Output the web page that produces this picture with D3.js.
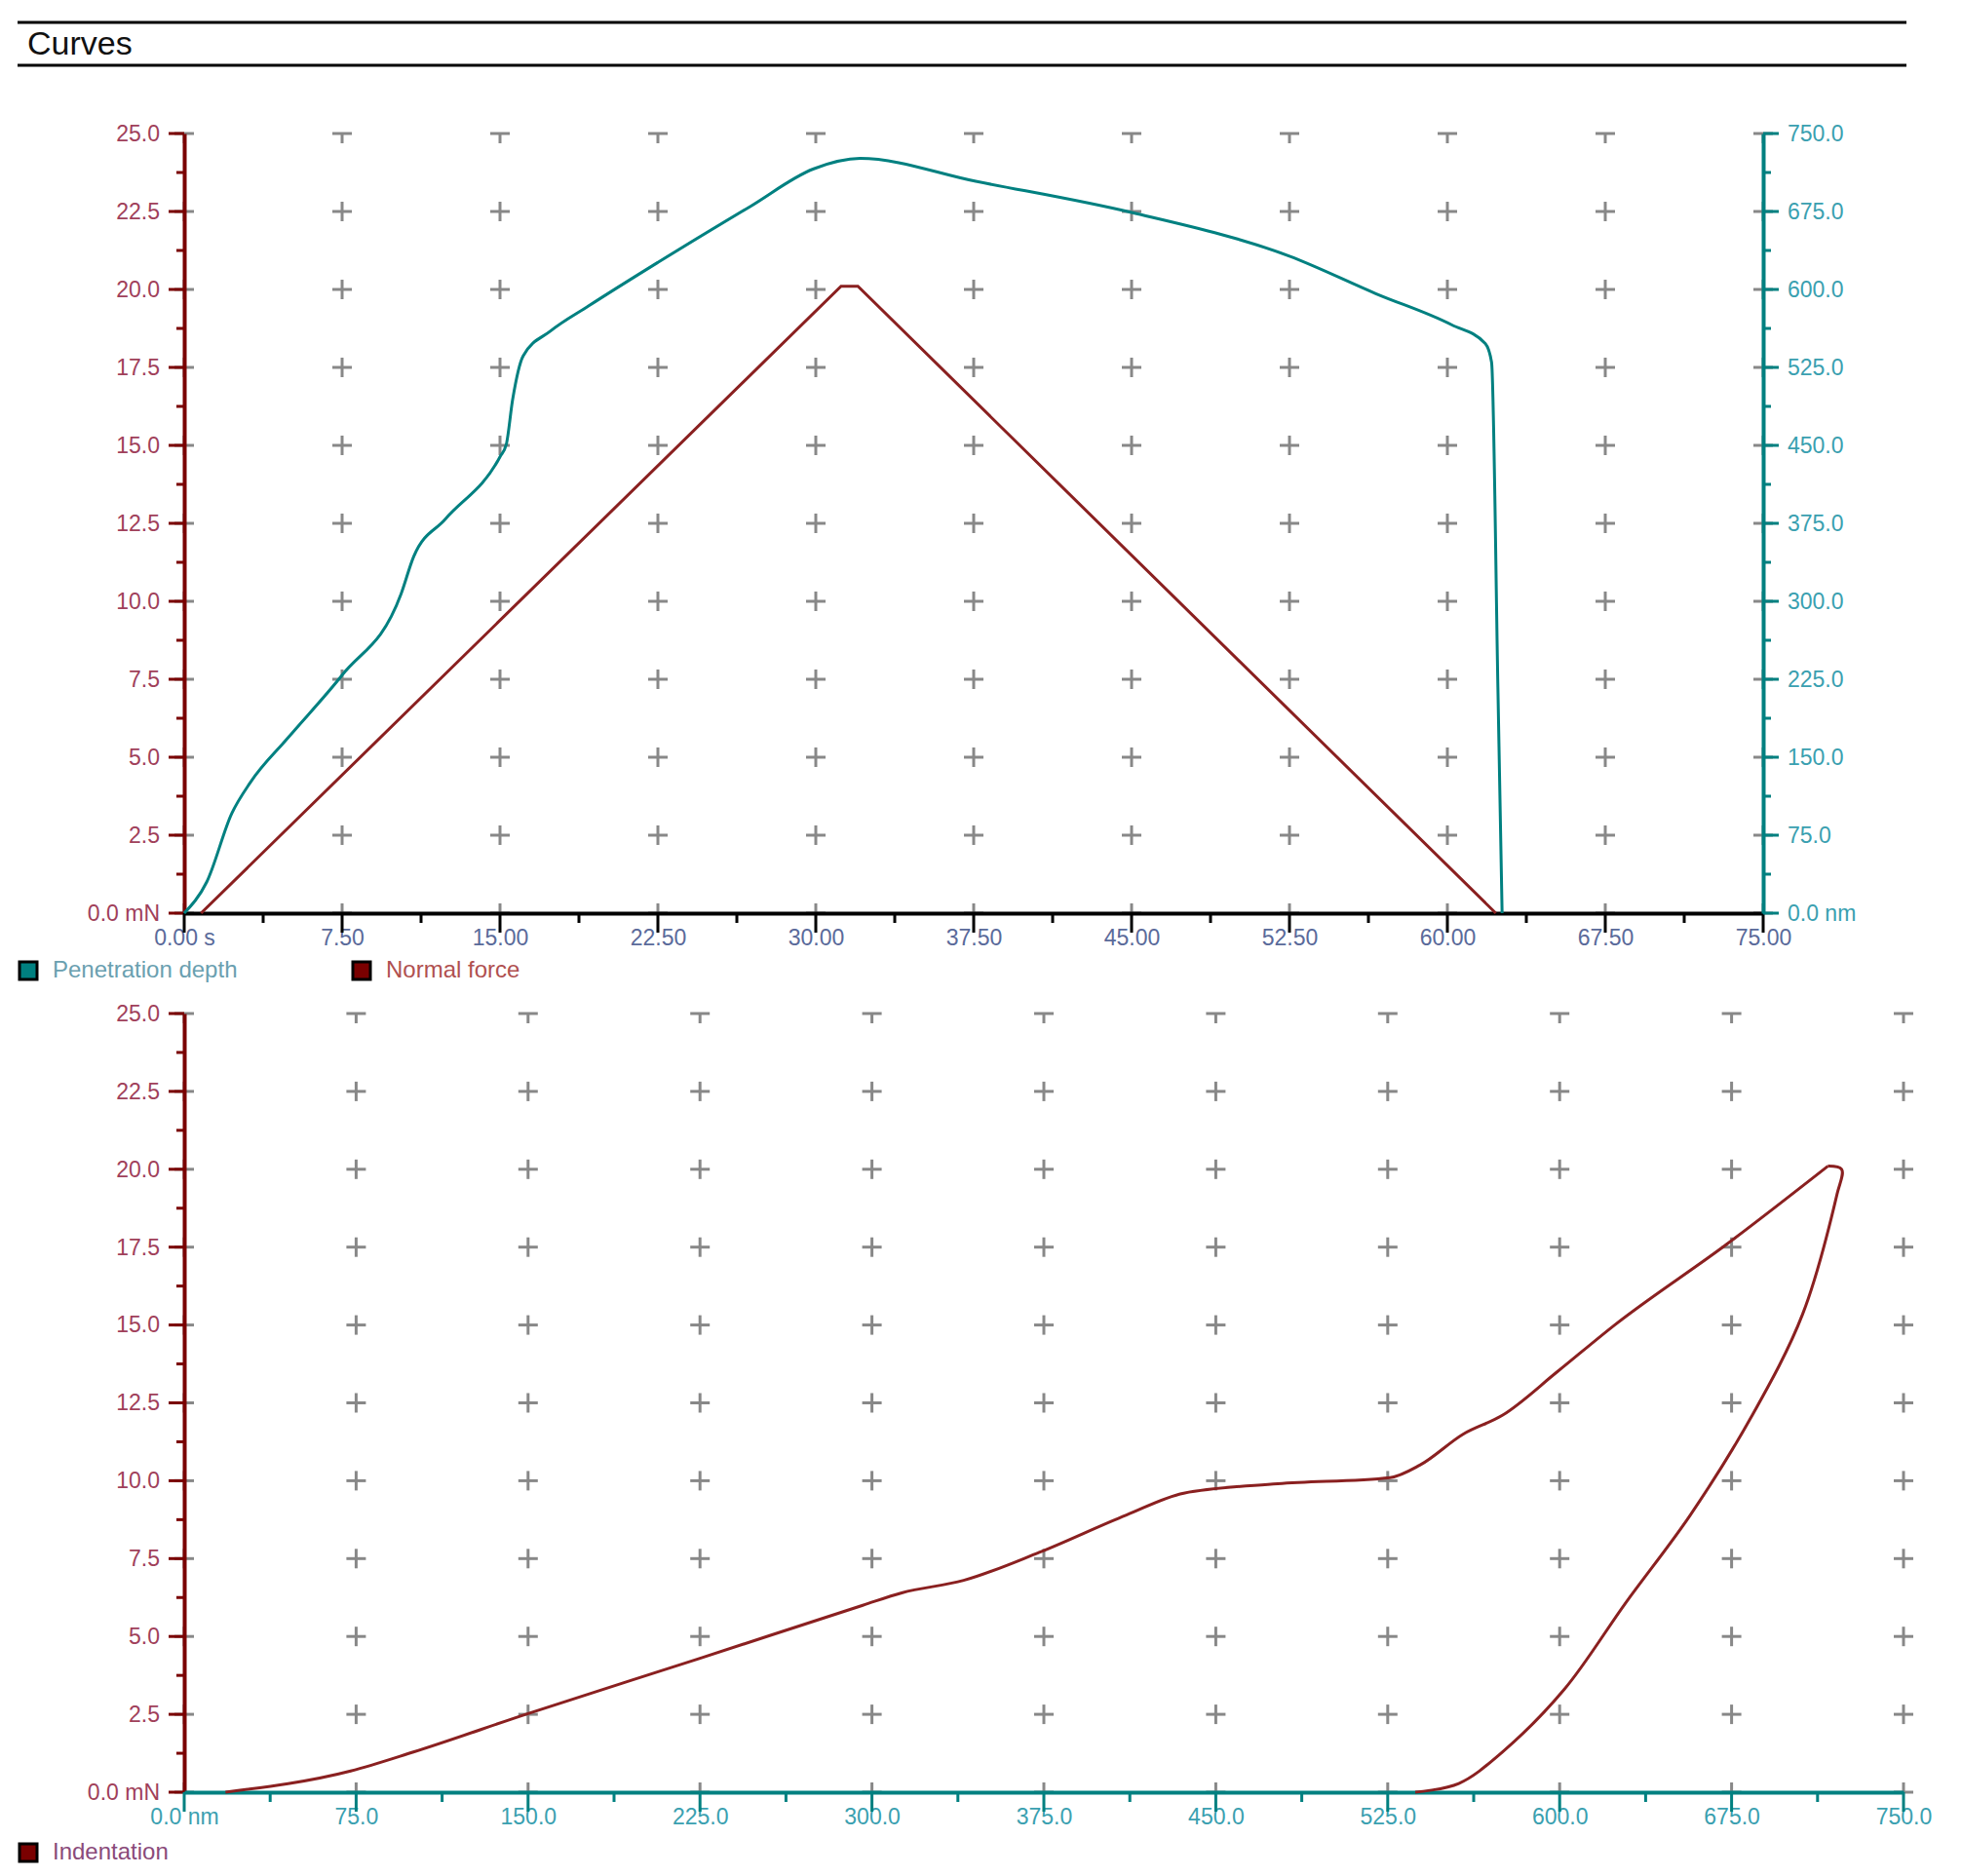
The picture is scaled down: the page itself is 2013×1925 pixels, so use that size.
<!DOCTYPE html>
<html><head><meta charset="utf-8"><script src="https://cdn.jsdelivr.net/npm/d3@7"></script>
<style>body{margin:0;background:#fff}</style></head><body>
<svg id="c" width="2013" height="1925"></svg>
<script>
const timeTicks=[0,7.5,15,22.5,30,37.5,45,52.5,60,67.5,75];
const forceTicks=[0,2.5,5,7.5,10,12.5,15,17.5,20,22.5,25];
const depthTicksR=[0,75,150,225,300,375,450,525,600,675,750];
const depthT=[0,1.07,2.26,3.15,4.9,7.5,10.3,10.9,12.4,15,15.3,15.6,16.1,17.4,19.2,22.5,26.9,29.9,32.1,37.6,45,52.5,56.6,60.2,61.8,62.1,62.4,62.6];
const depthV=[0,30,96,126,168,229,307,343,379,439,451,494,536,560,584,626,680,716,726,704,674,632,596,566,548,530,217,0];
const forceT=[0.8,31.2,32.0,62.3];
const forceV=[0,20.1,20.1,0];
const indD=[18,72.6,100,149,225,296,313,340,373,411,436,477,526,539,558,575,599,624,673,717,723,721,706,684,657,629,602,575,556,537];
const indF=[0,0.68,1.29,2.5,4.3,6.0,6.4,6.8,7.7,8.9,9.6,9.9,10.1,10.5,11.5,12.1,13.5,15.0,17.6,20.1,20.0,19.2,15.35,12.1,8.9,6.1,3.3,1.29,0.28,0];
const RED="#7a0000",TEAL="#008080",LRED="#a0405a",LTEAL="#3aa0b0",GREY="#888";
const svg=d3.select("#c");
const F="Liberation Sans, Arial, sans-serif";
svg.append("line").attr("x1",18).attr("x2",1956).attr("y1",23).attr("y2",23).attr("stroke","#000").attr("stroke-width",3);
svg.append("line").attr("x1",18).attr("x2",1956).attr("y1",67).attr("y2",67).attr("stroke","#000").attr("stroke-width",3);
svg.append("text").attr("x",28).attr("y",56).text("Curves").attr("font-family",F).attr("font-size",34).attr("fill","#111");
function fmt(v,d){return v.toFixed(d);}
function panel(o){
 const x=d3.scaleLinear().domain(o.xd).range([o.l,o.r]);
 const y=d3.scaleLinear().domain([0,25]).range([o.b,o.t]);
 const g=svg.append("g");
 o.xt.forEach(xv=>o.yt.forEach(yv=>{
  const px=x(xv),py=y(yv);
  g.append("line").attr("x1",px-10).attr("x2",px+10).attr("y1",py).attr("y2",py).attr("stroke",GREY).attr("stroke-width",3);
  g.append("line").attr("x1",px).attr("x2",px).attr("y1",yv==25?py:py-10).attr("y2",yv==0?py:py+10).attr("stroke",GREY).attr("stroke-width",3);
 }));
 const ax=d3.axisLeft(y).tickValues(forceTicks).tickSize(0).tickFormat(d=>d==0?"0.0 mN":fmt(d,1));
 const ga=g.append("g").attr("transform",`translate(${o.l},0)`).call(ax);
 ga.select(".domain").attr("stroke",RED).attr("stroke-width",4);
 ga.selectAll("text").attr("fill",LRED).attr("font-size",23).attr("font-family",F).attr("dx",-22);
 const mins=d3.range(0,25.01,1.25);
 g.selectAll(null).data(mins).join("line").attr("x1",d=>o.l-(d%2.5==0?16:8)).attr("x2",o.l).attr("y1",d=>y(d)).attr("y2",d=>y(d)).attr("stroke",RED).attr("stroke-width",3);
 const bx=d3.axisBottom(x).tickValues(o.xt).tickSize(0).tickFormat(o.xf);
 const gb=g.append("g").attr("transform",`translate(0,${o.b})`).call(bx);
 gb.select(".domain").attr("stroke",o.xc).attr("stroke-width",4);
 gb.selectAll("text").attr("fill",o.xlc).attr("font-size",23).attr("font-family",F).attr("dy",30);
 const step=(o.xt[1]-o.xt[0])/2;
 const xm=d3.range(o.xd[0],o.xd[1]+0.001,step);
 g.selectAll(null).data(xm).join("line").attr("x1",d=>x(d)).attr("x2",d=>x(d)).attr("y1",o.b).attr("y2",(d,i)=>o.b+(i%2==0?20:10)).attr("stroke",o.xc).attr("stroke-width",3);
 return {x,y,g};
}
const p1=panel({l:189,r:1809,t:137,b:937,xd:[0,75],xt:timeTicks,yt:forceTicks,xf:d=>d==0?"0.00 s":fmt(d,2),xc:"#000",xlc:"#5a6a9a"});
const yr=d3.scaleLinear().domain([0,750]).range([937,137]);
const gr=p1.g.append("g").attr("transform","translate(1809,0)").call(d3.axisRight(yr).tickValues(depthTicksR).tickSize(0).tickFormat(d=>d==0?"0.0 nm":fmt(d,1)));
gr.select(".domain").attr("stroke",TEAL).attr("stroke-width",4);
gr.selectAll("text").attr("fill",LTEAL).attr("font-size",23).attr("font-family",F).attr("dx",22);
p1.g.selectAll(null).data(d3.range(0,750.1,37.5)).join("line").attr("x1",1809).attr("x2",(d,i)=>1809+(i%2==0?16:8)).attr("y1",d=>yr(d)).attr("y2",d=>yr(d)).attr("stroke",TEAL).attr("stroke-width",3);
p1.g.append("path").attr("d",d3.line().curve(d3.curveMonotoneX)(depthT.map((t,i)=>[p1.x(t),yr(depthV[i])]))).attr("fill","none").attr("stroke",TEAL).attr("stroke-width",3);
p1.g.append("path").attr("d",d3.line()(forceT.map((t,i)=>[p1.x(t),p1.y(forceV[i])]))).attr("fill","none").attr("stroke","#8a2020").attr("stroke-width",3);
function legend(x,y,c,t,tc){
 svg.append("rect").attr("x",x).attr("y",y-16).attr("width",18).attr("height",18).attr("fill",c).attr("stroke","#000").attr("stroke-width",3);
 svg.append("text").attr("x",x+34).attr("y",y).text(t).attr("fill",tc).attr("font-size",24).attr("font-family",F);
}
legend(20,1003,TEAL,"Penetration depth","#6aa0b0");
legend(362,1003,RED,"Normal force","#b05050");
const p2=panel({l:189,r:1953,t:1040,b:1839,xd:[0,750],xt:depthTicksR,yt:forceTicks,xf:d=>d==0?"0.0 nm":fmt(d,1),xc:TEAL,xlc:LTEAL});
p2.g.append("path").attr("d",d3.line().curve(d3.curveMonotoneX)(indD.slice(0,20).map((d,i)=>[p2.x(d),p2.y(indF[i])]))).attr("fill","none").attr("stroke","#8a2020").attr("stroke-width",3);
p2.g.append("path").attr("d",d3.line().curve(d3.curveCatmullRom)(indD.slice(19).map((d,i)=>[p2.x(d),p2.y(indF[i+19])]))).attr("fill","none").attr("stroke","#8a2020").attr("stroke-width",3);
legend(20,1908,RED,"Indentation","#8a4a7a");
</script></body></html>
